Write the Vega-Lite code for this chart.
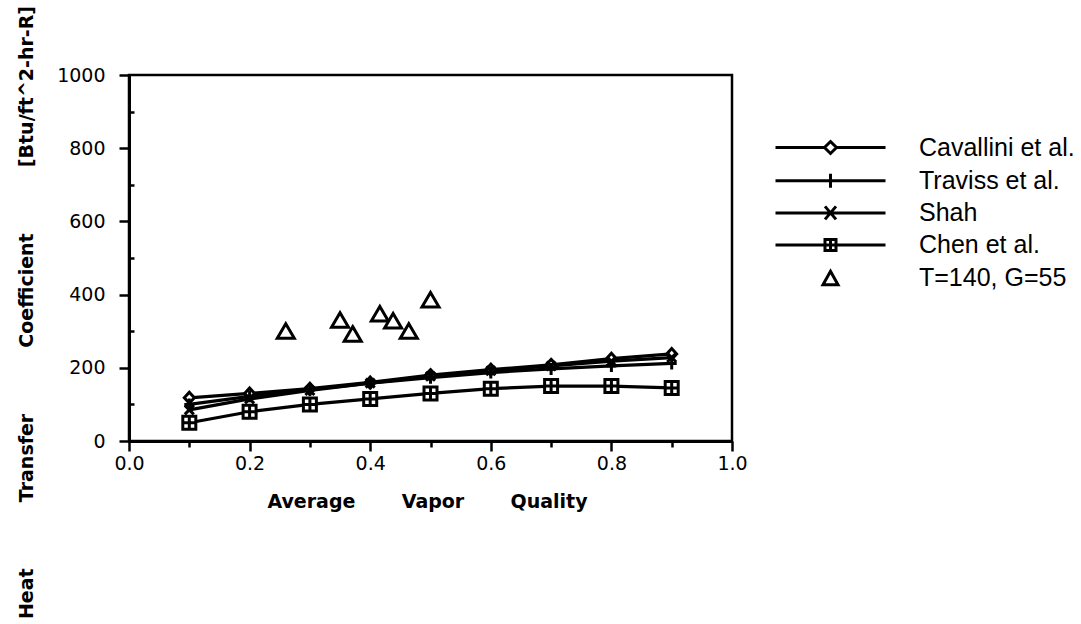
{
  "$schema": "https://vega.github.io/schema/vega-lite/v6.json",
  "width": 603,
  "height": 366,
  "autosize": {"type": "none"},
  "padding": {"left": 129, "top": 75, "right": 349, "bottom": 183},
  "background": "white",
  "config": {
    "view": {"stroke": "black", "strokeWidth": 2.5},
    "axis": {
      "domainColor": "black", "domainWidth": 3, "tickColor": "black", "tickWidth": 2.5,
      "labelColor": "black", "titleColor": "black", "grid": false,
      "labelFont": "DejaVu Sans", "labelFontSize": 19, "titleFont": "DejaVu Sans", "titleFontWeight": "bold"
    }
  },
  "data": {
    "values": [
      {"series": "Cavallini et al.", "x": 0.1, "y": 118},
      {"series": "Cavallini et al.", "x": 0.2, "y": 130},
      {"series": "Cavallini et al.", "x": 0.3, "y": 143},
      {"series": "Cavallini et al.", "x": 0.4, "y": 160},
      {"series": "Cavallini et al.", "x": 0.5, "y": 180},
      {"series": "Cavallini et al.", "x": 0.6, "y": 195},
      {"series": "Cavallini et al.", "x": 0.7, "y": 208},
      {"series": "Cavallini et al.", "x": 0.8, "y": 225},
      {"series": "Cavallini et al.", "x": 0.9, "y": 238},
      {"series": "Traviss et al.", "x": 0.1, "y": 100},
      {"series": "Traviss et al.", "x": 0.2, "y": 122},
      {"series": "Traviss et al.", "x": 0.3, "y": 140},
      {"series": "Traviss et al.", "x": 0.4, "y": 158},
      {"series": "Traviss et al.", "x": 0.5, "y": 173},
      {"series": "Traviss et al.", "x": 0.6, "y": 187},
      {"series": "Traviss et al.", "x": 0.7, "y": 197},
      {"series": "Traviss et al.", "x": 0.8, "y": 205},
      {"series": "Traviss et al.", "x": 0.9, "y": 212},
      {"series": "Shah", "x": 0.1, "y": 85},
      {"series": "Shah", "x": 0.2, "y": 115},
      {"series": "Shah", "x": 0.3, "y": 138},
      {"series": "Shah", "x": 0.4, "y": 158},
      {"series": "Shah", "x": 0.5, "y": 177},
      {"series": "Shah", "x": 0.6, "y": 192},
      {"series": "Shah", "x": 0.7, "y": 205},
      {"series": "Shah", "x": 0.8, "y": 218},
      {"series": "Shah", "x": 0.9, "y": 228},
      {"series": "Chen et al.", "x": 0.1, "y": 50},
      {"series": "Chen et al.", "x": 0.2, "y": 80},
      {"series": "Chen et al.", "x": 0.3, "y": 100},
      {"series": "Chen et al.", "x": 0.4, "y": 115},
      {"series": "Chen et al.", "x": 0.5, "y": 130},
      {"series": "Chen et al.", "x": 0.6, "y": 143},
      {"series": "Chen et al.", "x": 0.7, "y": 150},
      {"series": "Chen et al.", "x": 0.8, "y": 150},
      {"series": "Chen et al.", "x": 0.9, "y": 145},
      {"series": "T=140, G=55", "x": 0.26, "y": 300},
      {"series": "T=140, G=55", "x": 0.35, "y": 330},
      {"series": "T=140, G=55", "x": 0.371, "y": 292},
      {"series": "T=140, G=55", "x": 0.416, "y": 347},
      {"series": "T=140, G=55", "x": 0.438, "y": 328},
      {"series": "T=140, G=55", "x": 0.464, "y": 300},
      {"series": "T=140, G=55", "x": 0.5, "y": 385}
    ]
  },
  "encoding": {
    "x": {
      "field": "x", "type": "quantitative",
      "scale": {"domain": [0, 1], "nice": false},
      "axis": {
        "values": [0, 0.1, 0.2, 0.3, 0.4, 0.5, 0.6, 0.7, 0.8, 0.9, 1.0],
        "labelExpr": "round(datum.value*10) % 2 === 0 ? format(datum.value, '.1f') : ''",
        "labelOverlap": false, "labelFlush": false,
        "tickSize": {"condition": {"test": "round(datum.value*10) % 2 === 0", "value": 10}, "value": 6},
        "labelPadding": 3,
        "title": "Average\u00a0\u00a0\u00a0\u00a0\u00a0\u00a0\u00a0Vapor\u00a0\u00a0\u00a0\u00a0\u00a0\u00a0\u00a0Quality",
        "titleFontSize": 19, "titleX": 298, "titleY": 66, "titleBaseline": "alphabetic"
      }
    },
    "y": {
      "field": "y", "type": "quantitative",
      "scale": {"domain": [0, 1000], "nice": false},
      "axis": {
        "values": [0, 100, 200, 300, 400, 500, 600, 700, 800, 900, 1000],
        "format": "d",
        "labelExpr": "datum.value % 200 === 0 ? datum.label : ''",
        "labelOverlap": false, "labelFlush": false,
        "tickSize": {"condition": {"test": "datum.value % 200 === 0", "value": 10}, "value": -5},
        "labelPadding": 14,
        "title": "Heat\u00a0\u00a0\u00a0\u00a0\u00a0\u00a0\u00a0\u00a0\u00a0\u00a0Transfer\u00a0\u00a0\u00a0\u00a0\u00a0\u00a0\u00a0\u00a0\u00a0\u00a0Coefficient\u00a0\u00a0\u00a0\u00a0\u00a0\u00a0\u00a0\u00a0\u00a0\u00a0[Btu/ft^2-hr-R]",
        "titleFontSize": 19, "titleX": -93, "titleY": 237, "titleBaseline": "bottom", "titleAngle": -90, "titleAlign": "center"
      }
    }
  },
  "layer": [
    {
      "transform": [{"filter": "datum.series !== 'T=140, G=55'"}],
      "mark": {"type": "line", "color": "black", "strokeWidth": 3.2},
      "encoding": {"detail": {"field": "series"}}
    },
    {
      "mark": {"type": "point", "filled": true, "fill": "white", "stroke": "black", "size": 400, "opacity": 1},
      "encoding": {
        "shape": {
          "field": "series", "type": "nominal",
          "scale": {
            "domain": ["Cavallini et al.", "Traviss et al.", "Shah", "Chen et al.", "T=140, G=55"],
            "range": [
              "M0,-0.55L0.5,0L0,0.55L-0.5,0Z",
              "M0,-0.6V0.6M-0.5,0H0.5",
              "M-0.45,-0.45L0.45,0.45M-0.45,0.45L0.45,-0.45",
              "M-0.65,-0.65H0.65V0.65H-0.65ZM0,-0.65V0.65M-0.65,0H0.65",
              "M0,-0.75L0.85,0.7H-0.85Z"
            ]
          },
          "legend": null
        },
        "strokeWidth": {
          "field": "series", "type": "nominal",
          "scale": {
            "domain": ["Cavallini et al.", "Traviss et al.", "Shah", "Chen et al.", "T=140, G=55"],
            "range": [3, 3, 3.5, 2.5, 4]
          },
          "legend": null
        }
      }
    },
    {
      "mark": {"type": "point", "filled": false, "color": "black", "opacity": 0, "strokeWidth": 3},
      "encoding": {
        "shape": {
          "field": "series", "type": "nominal",
          "scale": {
            "domain": ["Cavallini et al.", "Traviss et al.", "Shah", "Chen et al.", "T=140, G=55"],
            "range": [
              "M-5.5,0H-0.6M0.6,0H5.5M0,-0.6L0.6,0L0,0.6L-0.6,0Z",
              "M-5.5,0H5.5M0,-0.7V0.7",
              "M-5.5,0H5.5M-0.55,-0.65L0.55,0.65M-0.55,0.65L0.55,-0.65",
              "M-5.5,0H-0.55M0.55,0H5.5M-0.55,-0.55H0.55V0.55H-0.55ZM0,-0.55V0.55M-0.55,0H0.55",
              "M0,-0.7L0.75,0.65H-0.75Z"
            ]
          },
          "legend": {
            "title": null, "orient": "none", "legendX": 689, "legendY": 60,
            "symbolSize": 400, "symbolStrokeWidth": 3, "symbolStrokeColor": "black",
            "symbolFillColor": "white", "symbolOpacity": 1,
            "labelFont": "Liberation Sans", "labelFontSize": 25, "labelColor": "black",
            "labelOffset": 76, "rowPadding": 6.2, "padding": 0, "labelLimit": 400
          }
        }
      }
    }
  ],
  "resolve": {"scale": {"shape": "independent"}}
}
